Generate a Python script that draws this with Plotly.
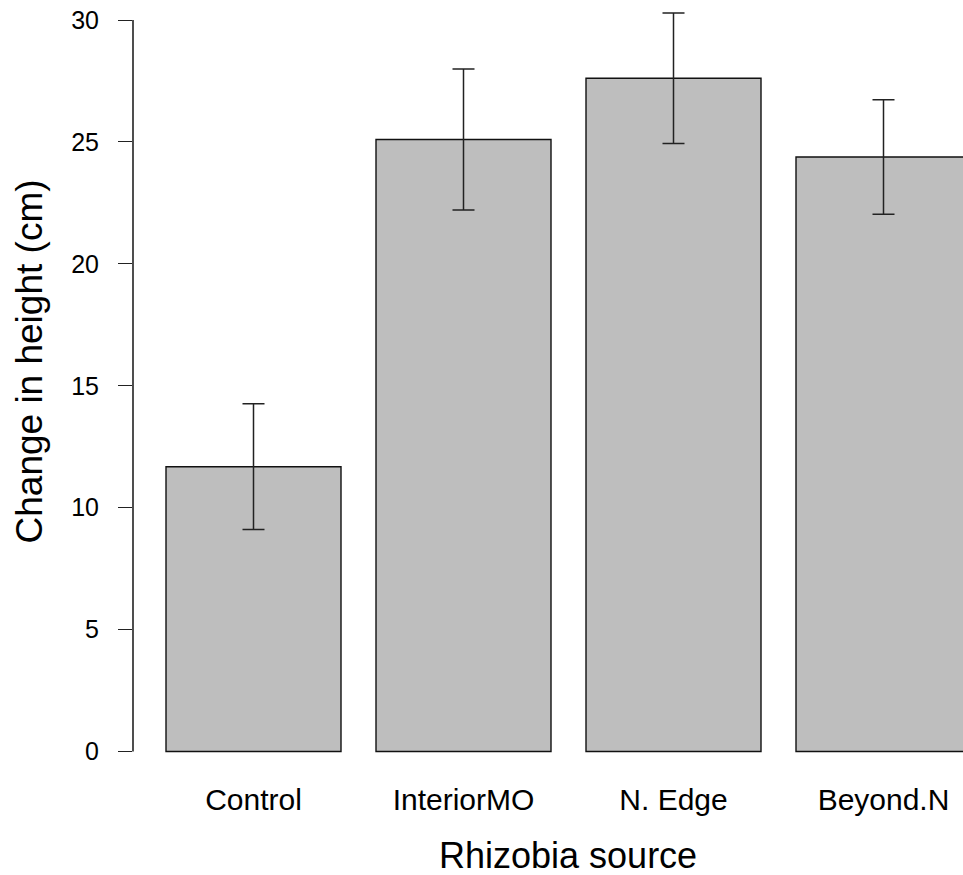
import plotly.graph_objects as go

categories = ["Control", "InteriorMO", "N. Edge", "Beyond.N"]
means = [11.68, 25.10, 27.61, 24.38]
errors = [2.58, 2.89, 2.68, 2.35]
y_ticks = [0, 5, 10, 15, 20, 25, 30]

W, H = 963, 875
L, R, T, B = 133, 0, 0, 100
plot_w = W - L - R
plot_h = H - T - B
unit_px = 210.0
x_left = -120.5 / unit_px
x_right = x_left + plot_w / unit_px
y_scale = 731.5 / 30.0
y0_px = 751.5
y30_px = 20
y_max = 30 + y30_px / y_scale
y_min = -(plot_h - y0_px) / y_scale

FONT = "Arial, 'Liberation Sans', sans-serif"

fig = go.Figure()
fig.add_trace(go.Bar(
    x=categories,
    y=means,
    marker=dict(color="#BEBEBE", line=dict(color="#111111", width=1.4)),
    error_y=dict(type="data", array=errors, visible=True,
                 color="#222222", thickness=1.5, width=11),
    showlegend=False,
    hoverinfo="skip",
))

fig.update_layout(
    width=W, height=H,
    margin=dict(l=L, r=R, t=T, b=B, pad=0, autoexpand=False),
    paper_bgcolor="white", plot_bgcolor="white",
    bargap=0.2 / 1.2,
    font=dict(family=FONT, color="black"),
    xaxis=dict(
        type="category", range=[x_left, x_right], automargin=False,
        showline=False, showgrid=False, zeroline=False, ticks="",
        tickfont=dict(size=30, family=FONT, color="black"),
        ticklabelstandoff=4,
    ),
    yaxis=dict(
        range=[y_min, y_max], tickvals=y_ticks, ticktext=[str(v) for v in y_ticks],
        automargin=False,
        showline=False, showgrid=False, zeroline=False,
        ticks="outside", ticklen=14, tickwidth=1.4, tickcolor="#222222",
        tickfont=dict(size=25, family=FONT, color="black"),
        ticklabelstandoff=14, ticklabeloverflow="allow",
    ),
    shapes=[dict(type="line", xref="paper", yref="y", x0=0, x1=0,
                 y0=y_ticks[0], y1=y_ticks[-1],
                 line=dict(color="#222222", width=1.6))],
    annotations=[
        dict(text="Change in height (cm)", xref="paper", yref="paper",
             x=(29 - L) / plot_w, y=1 - 361.5 / plot_h, textangle=-90,
             xanchor="center", yanchor="middle", showarrow=False,
             font=dict(size=37, family=FONT, color="black")),
        dict(text="Rhizobia source", xref="paper", yref="paper",
             x=(568 - L) / plot_w, y=(plot_h - 855) / plot_h,
             xanchor="center", yanchor="middle", showarrow=False,
             font=dict(size=36, family=FONT, color="black")),
    ],
)

fig.write_html("out.html", config={"displayModeBar": False},
               post_script="document.body.style.margin='0px';")
